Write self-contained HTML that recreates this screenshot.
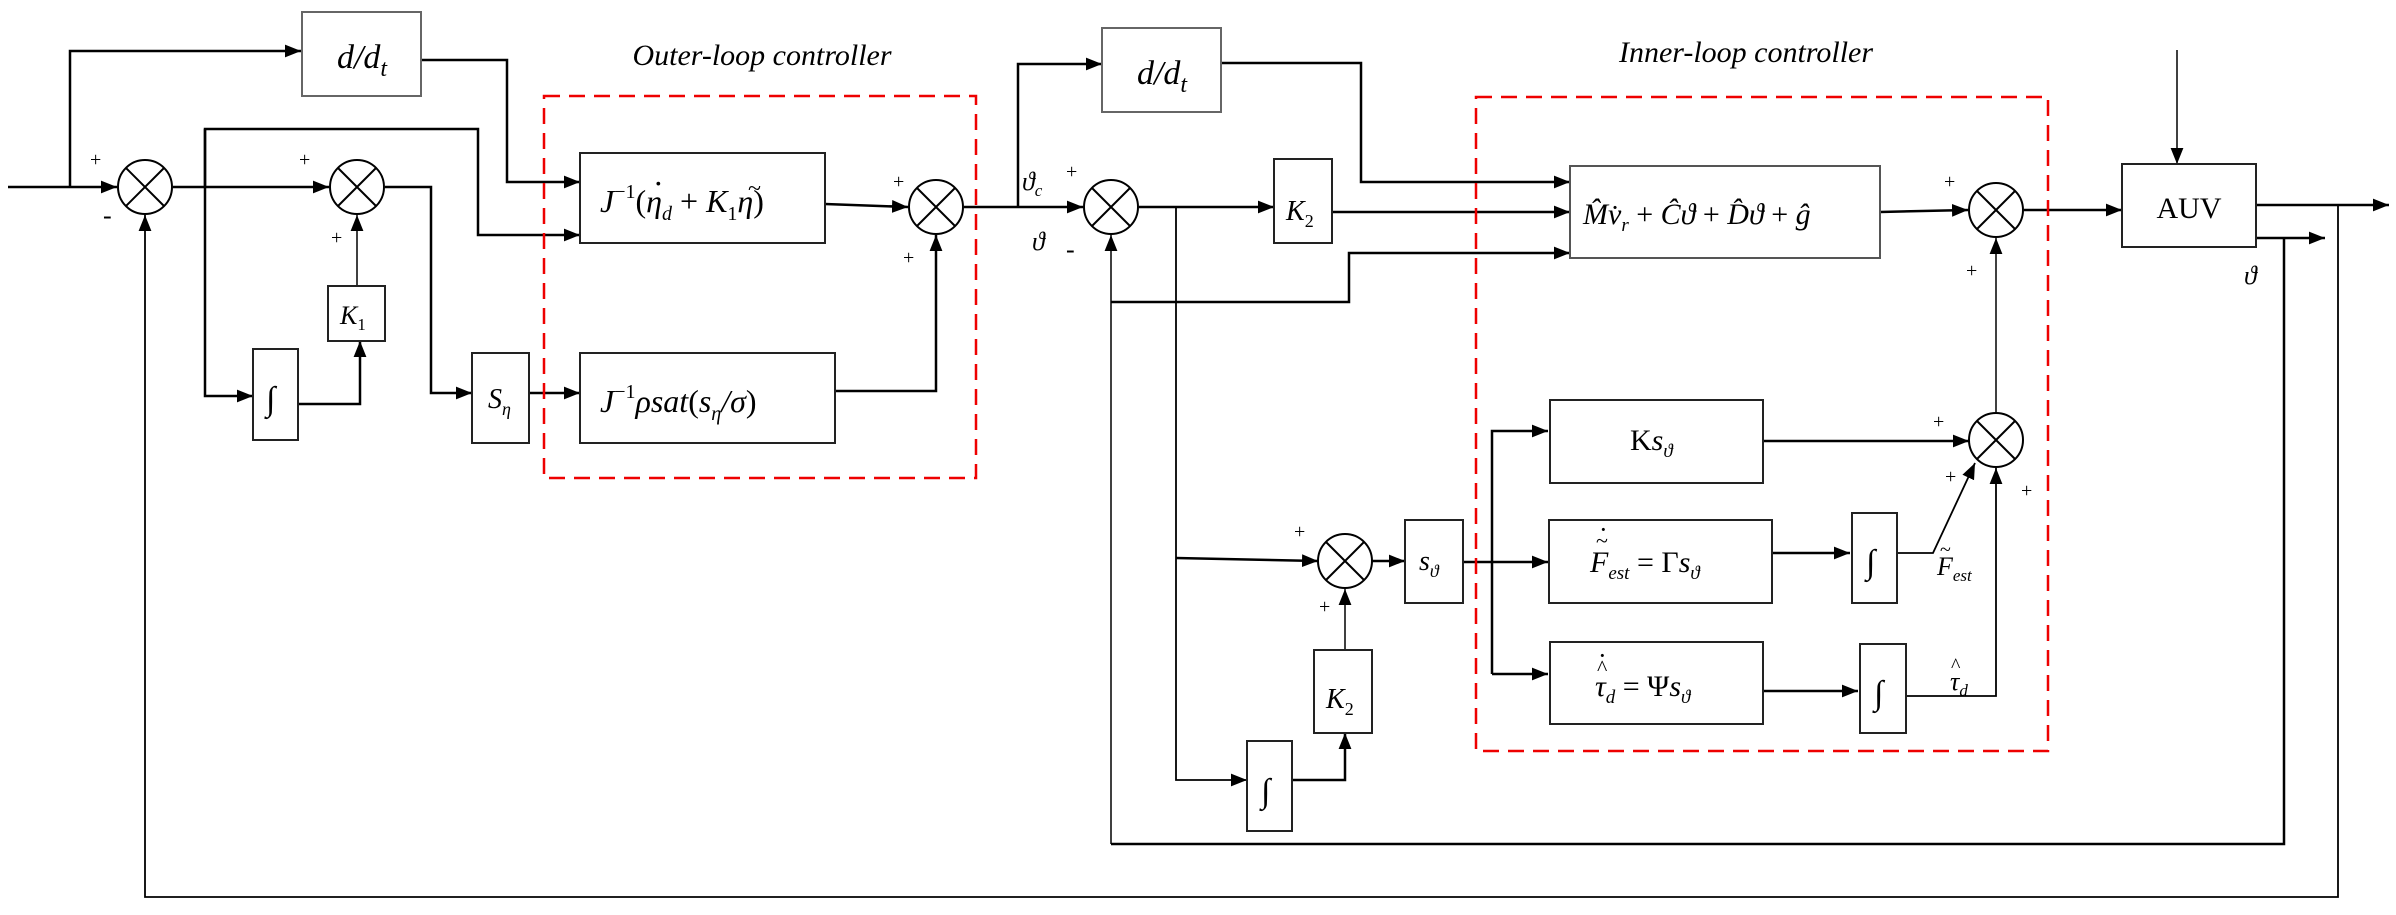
<!DOCTYPE html>
<html><head><meta charset="utf-8"><style>
html,body{margin:0;padding:0;background:#fff;}
svg{display:block;}
text{font-family:"Liberation Serif",serif;fill:#000;}
.i{font-style:italic;}
</style></head><body>
<svg width="2396" height="915" viewBox="0 0 2396 915" xmlns="http://www.w3.org/2000/svg">
<defs>
<marker id="A" viewBox="0 0 10 10" refX="10" refY="5" markerWidth="16" markerHeight="16" markerUnits="userSpaceOnUse" orient="auto">
<path d="M0,1 L10,5 L0,9 z" fill="#000"/></marker>
<g id="s"><ellipse cx="0" cy="0" rx="27" ry="27"/><path d="M-19,-19 L19,19 M19,-19 L-19,19"/></g>
</defs>
<g fill="none" stroke="#000" stroke-width="2.5">
<polyline points="8,187 117,187" marker-end="url(#A)"/>
<polyline points="70,187 70,51 301,51" marker-end="url(#A)"/>
<polyline points="421,60 507,60 507,182 580,182" marker-end="url(#A)"/>
<polyline points="173,187 329,187" marker-end="url(#A)"/>
<polyline points="205,187 205,129 478,129 478,235 580,235" marker-end="url(#A)"/>
<polyline points="205,129 205,396 253,396" marker-end="url(#A)"/>
<polyline points="298,404 360,404 360,341" marker-end="url(#A)"/>
<polyline points="357,286 357,215" marker-end="url(#A)" stroke-width="1.5"/>
<polyline points="385,187 431,187 431,393 472,393" marker-end="url(#A)"/>
<polyline points="529,393 580,393" marker-end="url(#A)"/>
<polyline points="825,204 908,207" marker-end="url(#A)"/>
<polyline points="835,391 936,391 936,235" marker-end="url(#A)"/>
<polyline points="964,207 1083,207" marker-end="url(#A)"/>
<polyline points="1018,207 1018,64 1102,64" marker-end="url(#A)"/>
<polyline points="1221,63 1361,63 1361,182 1570,182" marker-end="url(#A)"/>
<polyline points="1139,207 1274,207" marker-end="url(#A)"/>
<polyline points="1332,212 1570,212" marker-end="url(#A)"/>
<polyline points="1111,302 1349,302 1349,253 1570,253" marker-end="url(#A)"/>
<polyline points="1111,844 1111,235" marker-end="url(#A)" stroke-width="1.5"/>
<polyline points="1176,207 1176,780 1247,780" marker-end="url(#A)" stroke-width="1.8"/>
<polyline points="1176,558 1318,561" marker-end="url(#A)"/>
<polyline points="1292,780 1345,780 1345,733" marker-end="url(#A)"/>
<polyline points="1345,650 1345,589" marker-end="url(#A)" stroke-width="1.5"/>
<polyline points="1372,561 1405,561" marker-end="url(#A)"/>
<polyline points="1463,562 1548,562" marker-end="url(#A)"/>
<polyline points="1492,674 1492,431 1548,431" marker-end="url(#A)"/>
<polyline points="1492,674 1548,674" marker-end="url(#A)"/>
<polyline points="1763,441 1969,441" marker-end="url(#A)"/>
<polyline points="1772,553 1850,553" marker-end="url(#A)"/>
<polyline points="1897,553 1933,553 1975,463" marker-end="url(#A)" stroke-width="1.8"/>
<polyline points="1763,691 1858,691" marker-end="url(#A)"/>
<polyline points="1906,696 1996,696 1996,468" marker-end="url(#A)" stroke-width="1.8"/>
<polyline points="1996,412 1996,238" marker-end="url(#A)" stroke-width="1.5"/>
<polyline points="1880,212 1968,210" marker-end="url(#A)"/>
<polyline points="2024,210 2122,210" marker-end="url(#A)"/>
<polyline points="2177,50 2177,164" marker-end="url(#A)" stroke-width="1.5"/>
<polyline points="2256,205 2389,205" marker-end="url(#A)"/>
<polyline points="2256,238 2325,238" marker-end="url(#A)"/>
<polyline points="2284,238 2284,844 1111,844"/>
<polyline points="2338,205 2338,897 145,897 145,215" marker-end="url(#A)" stroke-width="1.8"/>
</g>
<g fill="#fff" stroke="#222" stroke-width="2">
<rect x="302" y="12" width="119" height="84" stroke="#666"/>
<rect x="580" y="153" width="245" height="90"/>
<rect x="580" y="353" width="255" height="90"/>
<rect x="253" y="349" width="45" height="91"/>
<rect x="328" y="286" width="57" height="55"/>
<rect x="472" y="353" width="57" height="90"/>
<rect x="1102" y="28" width="119" height="84" stroke="#666"/>
<rect x="1274" y="159" width="58" height="84"/>
<rect x="1570" y="166" width="310" height="92" stroke="#555"/>
<rect x="2122" y="164" width="134" height="83"/>
<rect x="1405" y="520" width="58" height="83"/>
<rect x="1550" y="400" width="213" height="83"/>
<rect x="1549" y="520" width="223" height="83"/>
<rect x="1550" y="642" width="213" height="82"/>
<rect x="1852" y="513" width="45" height="90"/>
<rect x="1860" y="644" width="46" height="89"/>
<rect x="1314" y="650" width="58" height="83"/>
<rect x="1247" y="741" width="45" height="90"/>
</g>
<g fill="#fff" stroke="#000" stroke-width="2">
<use href="#s" x="145" y="187"/><use href="#s" x="357" y="187"/><use href="#s" x="936" y="207"/>
<use href="#s" x="1111" y="207"/><use href="#s" x="1345" y="561"/><use href="#s" x="1996" y="440"/><use href="#s" x="1996" y="210"/>
</g>
<g fill="none" stroke="#e00" stroke-width="2.5" stroke-dasharray="16,9">
<rect x="544" y="96" width="432" height="382"/>
<rect x="1476" y="97" width="572" height="654"/>
</g>
<text x="762" y="65" font-size="30" class="i" text-anchor="middle">Outer-loop controller</text>
<text x="1746" y="62" font-size="30" class="i" text-anchor="middle">Inner-loop controller</text>
<text x="362" y="68" font-size="34" text-anchor="middle" class="i">d/d<tspan font-size="24" dy="8">t</tspan></text>
<text x="1162" y="84" font-size="34" text-anchor="middle" class="i">d/d<tspan font-size="24" dy="8">t</tspan></text>
<text x="600" y="212" font-size="32" class="i">J<tspan font-size="20" dy="-14" font-style="normal">−1</tspan><tspan dy="14" font-style="normal">(</tspan>η<tspan font-size="20" dy="8">d</tspan><tspan dy="-8" font-style="normal"> + </tspan>K<tspan font-size="20" dy="8" font-style="normal">1</tspan><tspan dy="-8">η</tspan><tspan font-style="normal">)</tspan></text>
<text x="653" y="194" font-size="32">·</text>
<text x="748" y="196" font-size="24">~</text>
<text x="600" y="412" font-size="32" class="i">J<tspan font-size="20" dy="-14" font-style="normal">−1</tspan><tspan dy="14">ρsat</tspan><tspan font-style="normal">(</tspan>s<tspan font-size="20" dy="8">η</tspan><tspan dy="-8">/σ</tspan><tspan font-style="normal">)</tspan></text>
<text x="340" y="324" font-size="26" class="i">K<tspan font-size="17" dy="6" font-style="normal">1</tspan></text>
<text x="488" y="408" font-size="28" class="i">S<tspan font-size="18" dy="7">η</tspan></text>
<text x="266" y="410" font-size="34" class="i">∫</text>
<text x="1286" y="220" font-size="28" class="i">K<tspan font-size="18" dy="7" font-style="normal">2</tspan></text>
<text x="1326" y="708" font-size="28" class="i">K<tspan font-size="18" dy="7" font-style="normal">2</tspan></text>
<text x="1261" y="802" font-size="34" class="i">∫</text>
<text x="1866" y="573" font-size="34" class="i">∫</text>
<text x="1874" y="704" font-size="34" class="i">∫</text>
<text x="1583" y="224" font-size="30" class="i">M̂v̇<tspan font-size="19" dy="7">r</tspan><tspan dy="-7" font-style="normal"> + </tspan>Ĉϑ<tspan font-style="normal"> + </tspan>D̂ϑ<tspan font-style="normal"> + </tspan>ĝ</text>
<text x="2189" y="218" font-size="30" text-anchor="middle">AUV</text>
<text x="1419" y="570" font-size="28" class="i">s<tspan font-size="18" dy="7">ϑ</tspan></text>
<text x="1630" y="450" font-size="30">K<tspan class="i">s</tspan><tspan font-size="19" dy="7" class="i">ϑ</tspan></text>
<text x="1590" y="572" font-size="30" class="i">F<tspan font-size="19" dy="7">est</tspan><tspan dy="-7" font-style="normal"> = Γ</tspan>s<tspan font-size="19" dy="7">ϑ</tspan></text>
<text x="1596" y="548" font-size="22">~</text><text x="1599" y="538" font-size="26">·</text>
<text x="1595" y="696" font-size="30" class="i">τ<tspan font-size="19" dy="7">d</tspan><tspan dy="-7" font-style="normal"> = Ψ</tspan>s<tspan font-size="19" dy="7">ϑ</tspan></text>
<text x="1597" y="675" font-size="22">^</text><text x="1598" y="664" font-size="26">·</text>
<text x="1937" y="575" font-size="26" class="i">F<tspan font-size="17" dy="6">est</tspan></text>
<text x="1940" y="556" font-size="20">~</text>
<text x="1950" y="690" font-size="26" class="i">τ<tspan font-size="17" dy="6">d</tspan></text>
<text x="1951" y="672" font-size="20">^</text>
<text x="1022" y="190" font-size="26" class="i">ϑ<tspan font-size="17" dy="6">c</tspan></text>
<text x="1032" y="250" font-size="26" class="i">ϑ</text>
<text x="2244" y="284" font-size="26" class="i">ϑ</text>
<g font-size="20" fill="#333">
<text x="90" y="166">+</text><text x="103" y="224" font-size="26">-</text>
<text x="299" y="166">+</text><text x="331" y="244">+</text>
<text x="893" y="188">+</text><text x="903" y="264">+</text>
<text x="1066" y="178">+</text><text x="1066" y="258" font-size="26">-</text>
<text x="1944" y="188">+</text><text x="1966" y="277">+</text>
<text x="1294" y="538">+</text><text x="1319" y="613">+</text>
<text x="1933" y="428">+</text><text x="1945" y="483">+</text><text x="2021" y="497">+</text>
</g>
</svg>
</body></html>
